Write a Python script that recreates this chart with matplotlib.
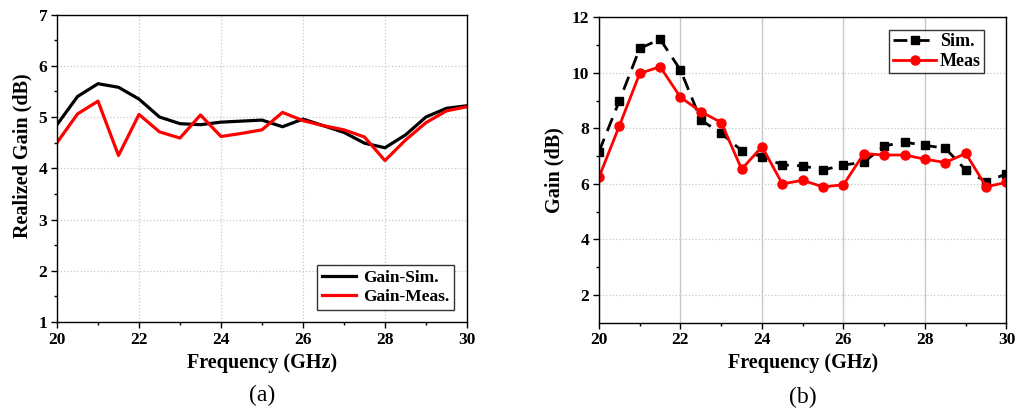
import matplotlib.pyplot as plt
import numpy as np

plt.rcParams['font.family'] = ['Liberation Serif', 'DejaVu Serif']

# frequency points (GHz)
freq = [20, 20.5, 21, 21.5, 22, 22.5, 23, 23.5, 24, 24.5, 25,
        25.5, 26, 26.5, 27, 27.5, 28, 28.5, 29, 29.5, 30]

# (a) realized gain
real_sim = [4.85, 5.40, 5.65, 5.58, 5.35, 5.00, 4.87, 4.85, 4.90, 4.92, 4.94,
            4.81, 4.96, 4.83, 4.70, 4.49, 4.40, 4.65, 5.00, 5.17, 5.22]
real_meas = [4.50, 5.06, 5.31, 4.25, 5.05, 4.71, 4.59, 5.04, 4.62, 4.68, 4.75,
             5.09, 4.93, 4.83, 4.75, 4.61, 4.15, 4.55, 4.89, 5.12, 5.20]

# (b) gain
gain_sim = [7.16, 8.99, 10.88, 11.21, 10.10, 8.30, 7.82, 7.20, 6.98, 6.68, 6.65,
            6.50, 6.68, 6.78, 7.37, 7.50, 7.39, 7.28, 6.50, 6.08, 6.36]
gain_meas = [6.24, 8.09, 9.98, 10.22, 9.12, 8.60, 8.21, 6.53, 7.34, 6.00, 6.13,
             5.89, 5.97, 7.09, 7.04, 7.04, 6.89, 6.77, 7.10, 5.90, 6.05]

fig = plt.figure(figsize=(10.18, 4.09), dpi=100)
ax1 = fig.add_axes([0.056, 0.2127, 0.4027, 0.7518])
ax2 = fig.add_axes([0.5884, 0.211, 0.4003, 0.7467])

label_font = dict(fontsize=14.5, fontweight='bold')

# --- (a)
ax1.plot(freq, real_sim, color='black', lw=2.3, label='Gain-Sim.')
ax1.plot(freq, real_meas, color='#ff0000', lw=2.3, label='Gain-Meas.')
ax1.set_xlim(20, 30)
ax1.set_ylim(1, 7)
ax1.set_xticks(np.arange(20, 31, 2))
ax1.set_xticks(np.arange(21, 30, 2), minor=True)
ax1.set_yticks(np.arange(1, 8, 1))
ax1.set_yticks(np.arange(1.5, 7, 1), minor=True)
ax1.grid(True, which='major', color='#c8c8c8', ls=':', lw=0.9)
ax1.set_ylabel('Realized Gain (dB)', **label_font)
ax1.yaxis.set_label_coords(-0.059, 0.54)
ax1.set_xlabel('Frequency (GHz)', **label_font)
ax1.xaxis.set_label_coords(0.5, -0.1)
leg1 = ax1.legend(loc='lower right', bbox_to_anchor=(0.968, 0.04), fancybox=False,
                  edgecolor='black', prop={'weight': 'bold', 'size': 12.5},
                  handlelength=2.0, handletextpad=0.4,
                  borderpad=0.25, labelspacing=0.2, borderaxespad=0.0)
leg1.get_frame().set_linewidth(1.0)
ax1.text(0.5, -0.205, '(a)', transform=ax1.transAxes, ha='center', va='top', fontsize=17)

# --- (b)
ax2.plot(freq, gain_sim, color='black', lw=2.0, ls=(0, (5, 3)), marker='s', ms=6,
         label='Sim.')
ax2.plot(freq, gain_meas, color='#ff0000', lw=2.0, marker='o', ms=6.5, label='Meas')
ax2.set_xlim(20, 30)
ax2.set_ylim(1, 12)
ax2.set_xticks(np.arange(20, 31, 2))
ax2.set_xticks(np.arange(21, 30, 2), minor=True)
ax2.set_yticks(np.arange(2, 13, 2))
ax2.set_yticks(np.arange(3, 12, 2), minor=True)
ax2.grid(True, axis='x', which='major', color='#c8c8c8', ls='-', lw=1.0)
ax2.grid(True, axis='y', which='major', color='#c8c8c8', ls=':', lw=0.9)
ax2.set_ylabel('Gain (dB)', **label_font)
ax2.yaxis.set_label_coords(-0.084, 0.5)
ax2.set_xlabel('Frequency (GHz)', **label_font)
ax2.xaxis.set_label_coords(0.5, -0.1)
leg2 = ax2.legend(loc='upper right', bbox_to_anchor=(0.946, 0.96), fancybox=False,
                  edgecolor='black', prop={'weight': 'bold', 'size': 13},
                  handlelength=2.4, handletextpad=0.2,
                  borderpad=0.2, labelspacing=0.15, borderaxespad=0.0)
leg2.get_frame().set_linewidth(1.0)
ax2.text(0.5, -0.21, '(b)', transform=ax2.transAxes, ha='center', va='top', fontsize=17)

for ax in (ax1, ax2):
    ax.set_axisbelow(True)
    for s in ax.spines.values():
        s.set_linewidth(1.0)
    ax.tick_params(which='major', direction='out', length=4, width=1, pad=3,
                   labelsize=12.5)
    ax.tick_params(which='minor', direction='out', length=2.5, width=1)
    for lab in ax.get_xticklabels() + ax.get_yticklabels():
        lab.set_fontweight('bold')

fig.savefig('out.png', dpi=100)
